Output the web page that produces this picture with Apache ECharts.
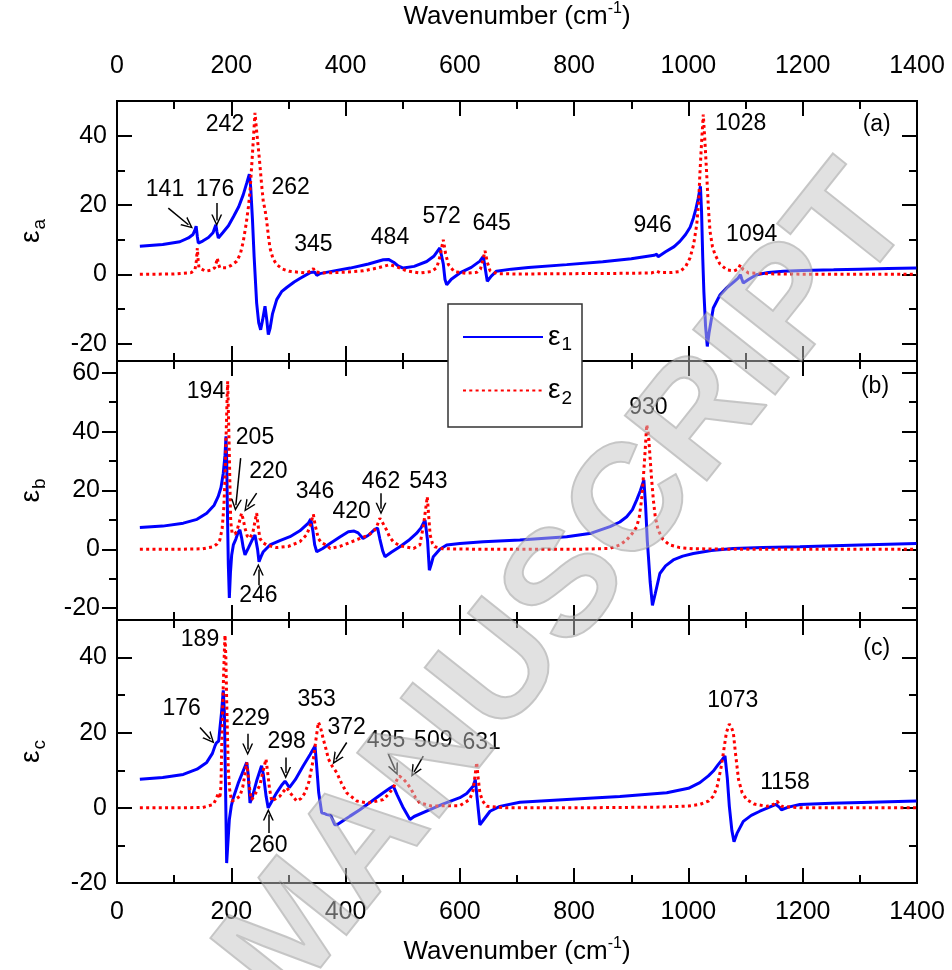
<!DOCTYPE html>
<html>
<head>
<meta charset="utf-8">
<script src="https://cdn.jsdelivr.net/npm/echarts@6/dist/echarts.min.js"></script>
<style>
  html, body { margin: 0; padding: 0; background: #fff; }
  #chart { width: 952px; height: 970px; }
</style>
</head>
<body>
<div id="chart"></div>
<script>
// ---- data: [wavenumber, epsilon] ----
var aE1 = [[40,8.1],[80,8.6],[110,9.4],[125,10.5],[133,11.5],[136,12.6],[138.5,13.9],[140.5,11],[142.3,9],[150,9.6],[160,10.6],[168,12],[173,14.3],[175,12.2],[177.3,10.5],[185,12],[195,14],[204,16.7],[213,19.5],[221,23],[227,26.3],[231.6,28.9],[234,25],[237,16],[240,5],[244.4,-8.3],[248,-14],[251.4,-16],[255,-13],[259,-9.2],[262,-13],[264.8,-17.4],[268,-15.5],[272,-11.5],[279.5,-7.3],[288,-5],[297,-3.8],[310,-2.2],[320,-1.2],[338,0.5],[346,0.7],[349.5,-0.3],[355,0.2],[380,1],[408,1.8],[440,3],[466,4.2],[475,4.3],[484,3.5],[492,2.4],[501,1.8],[520,2.3],[542,3.7],[555,5.3],[565,7.6],[568,7.9],[571,3],[574,-1.5],[577,-3],[585,-1.4],[600,0.4],[620,2],[635,3.8],[641,5.2],[644,5.6],[646,0],[648,-2],[655,-0.5],[664,0.9],[690,1.5],[720,2],[787,2.8],[850,3.6],[900,4.5],[940,5.5],[944.5,5.8],[947,5.1],[960,6.5],[975,8],[985,9.5],[995,11.5],[1003,13.6],[1008.6,16.2],[1013,18.8],[1017,21.8],[1021,25.4],[1023,18],[1025,5],[1027,-4.9],[1030,-15],[1033,-20.8],[1036,-17],[1043.5,-9.7],[1055,-6],[1067,-3.9],[1080,-2.1],[1087,-1.1],[1091,-0.1],[1093,-1.2],[1096,-2.5],[1105,-1.5],[1119,-0.1],[1140,0.5],[1166,0.9],[1200,1.1],[1254,1.3],[1300,1.5],[1350,1.7],[1399,1.8]];
var aE2 = [[40,0],[100,0.1],[130,0.5],[136.5,1.4],[139,4],[140.6,7.6],[142,4],[143.5,1.9],[155,0.9],[165,1.2],[171,1.9],[174,3.5],[175.6,4.7],[177.5,3],[180,1.9],[191.6,1.9],[200,2.6],[209.5,3.75],[216,6],[221,9.5],[226,14.5],[230,19.5],[232.8,24],[236,32],[239,40],[241.5,46.6],[244,42],[249,33.6],[253,26],[256,21],[259,18.7],[262,15.3],[265,11],[267.7,7.6],[273,4.5],[279.5,2.8],[290,1.5],[301,0.9],[330,0.4],[340,1],[343.6,1.7],[347,0.7],[360,0.4],[400,0.6],[431,1],[455,1.8],[477.8,2.8],[492,2],[507,1],[530,0.4],[550,0.8],[559.5,1.9],[565,5],[571,10],[575,6],[580,2.8],[590,0.8],[610,0.3],[630,0.6],[636,1.5],[641,4.5],[644,6.8],[648,3.5],[653,1],[665,0.2],[700,0.1],[800,0.2],[900,0.3],[935,0.4],[945,0.9],[950,0.5],[970,0.5],[985,0.8],[995,2.2],[1002.7,4.7],[1009,8.5],[1014.5,14.3],[1018,21],[1020,28.8],[1023,38],[1026,46.1],[1029,38],[1032,28.8],[1035,19],[1037.8,12.4],[1042,8],[1046.5,5.7],[1055,3],[1067,1.3],[1080,1],[1087,1.5],[1091,2.8],[1095,1.5],[1105,0.4],[1150,0.1],[1250,0],[1399,0]];

var bE1 = [[40,7.4],[80,7.9],[116,8.9],[140,10.2],[157,12.3],[170,15],[177,17.9],[182,21],[186,25.9],[189,32],[190.75,38.4],[192,30],[193.5,10],[194.8,-5],[196.6,-16.5],[198.5,-8],[200.7,-1.9],[203.6,1.5],[208,3.5],[212,5.8],[215,6.6],[218,4],[221,0.5],[224,-1.9],[230,0.5],[236,3],[241.5,4.9],[244,5.2],[246,0],[248.5,-4.2],[252,-2.5],[256,-0.8],[267.7,1.5],[285,3],[302.7,4.3],[320,6.3],[334.8,8.9],[339,10.3],[343,6],[346,1.5],[349.5,-0.8],[352,-1.4],[360,0.3],[372.75,2],[390,4.2],[404.8,6],[415,6.2],[422,5.6],[430.5,3.7],[440,4.8],[451,6.8],[456,7.2],[460,3.5],[465,-0.5],[469,-2.5],[480,-1],[495,0.9],[510,3],[524,5.4],[532,7.3],[539,10],[541,10.3],[543.5,3],[546.6,-7.1],[550,-5],[553.5,-2.5],[565,0],[577,1.5],[600,2],[641,2.6],[705,3.2],[787,4.3],[830,5.5],[862.75,7.7],[880,9.3],[892,11.1],[902,13.5],[909.5,16.8],[916,20],[922,23.6],[925,15],[928,3],[930,-2.5],[933,-11],[937,-19],[942,-15],[950,-8.2],[960,-5.6],[973.5,-3.6],[990,-2.3],[1008.6,-1.4],[1040,-0.4],[1078.5,0.3],[1130,0.6],[1195,0.9],[1300,1.5],[1399,2]];
var bE2 = [[40,0],[100,0],[150,0.2],[168.5,0.9],[175,1.8],[180,3.2],[184,7],[187,14.5],[189,24],[190.75,37.3],[192.5,50],[193.7,57.1],[195,46],[196.6,32.1],[198,18],[199,9.4],[201.5,5.5],[203.6,4.9],[206,5.2],[209.5,6],[213,8.5],[218,12.3],[221,10],[224,7.2],[228,4.5],[232.75,3.75],[238,6],[241,9],[244.4,12.3],[247,8],[250,3.75],[255,2.3],[262,1.5],[279,0.6],[300,1],[320,2.6],[332,5],[338,8],[343.6,11.9],[347,8],[352.3,3.75],[358,2.2],[366,1.5],[373,0.3],[390,1],[410,2.5],[425,3.7],[440,4.8],[450,6.3],[454.5,7.7],[460,10.6],[465,9],[471.7,6.6],[477,4.2],[483.5,2.6],[495,1.2],[519,0.3],[530,1.5],[536,7.7],[539,12],[543,17.9],[546,10],[548,4.9],[552,2],[556,0.9],[570,0.2],[650,0],[800,0],[862,0.3],[880,1.5],[892,3.2],[902,5.5],[909.5,7.7],[914,11],[918,16.8],[921,24],[924,32.7],[927,42.4],[930,39],[932.75,31.6],[935.5,24],[938.6,16.8],[942,11],[947,6.6],[955,3.5],[967,1.5],[985,0.6],[1010,0.2],[1100,0],[1399,0]];

var cE1 = [[40,7.6],[80,8.1],[116,8.9],[140,10.3],[157,12.1],[167,14.5],[171.5,16.5],[174,17.3],[176.5,16.8],[178,17.8],[180,21],[183,25.5],[186,31.3],[188,25],[190,5],[190.75,-3.1],[191.9,-14.7],[193,-12],[196.6,-3.1],[200,0.5],[203.6,2.7],[212,6.5],[220,9.5],[227,12.1],[229.5,9],[232.75,1.3],[237,3],[245,7.5],[253,11.2],[256,9],[261,3],[264.6,0],[270,1.5],[279.3,4],[288,6],[294,7.1],[297,6.5],[301.6,5.4],[312,7.5],[326,11.2],[338,14.2],[346.5,16.5],[349,12],[353,4],[358.2,-1.3],[363,-1.5],[367,-1.8],[370,-1.4],[374,-2],[381,-4.5],[385,-4.5],[395,-3.5],[407.75,-2.2],[425,-0.5],[445,1.7],[466,4],[478,5.3],[483.6,5.8],[490,3.5],[500,0.3],[512.75,-3.1],[520,-2.3],[547.75,-0.5],[570,1],[600,2.7],[612,3.8],[623.5,5.8],[627,7.6],[630,3],[633,-1.5],[635,-4.5],[640,-3.5],[652.75,-0.9],[670,0.4],[705,1.5],[787,2.2],[880,3],[962,4],[1000,5.2],[1020,6.7],[1035,8.5],[1043.6,9.8],[1052,11.5],[1059,12.8],[1064,13.8],[1068,8],[1071.6,0.4],[1076,-6],[1079.75,-9],[1085,-6.8],[1096,-3.6],[1110,-2],[1125,-0.9],[1145,0.4],[1153,0.9],[1156,1.2],[1159,0.2],[1162.75,-0.5],[1175,0.2],[1195,0.9],[1250,1.2],[1320,1.5],[1399,1.8]];
var cE2 = [[40,0],[100,0],[150,0.1],[168.5,0.9],[174,2.5],[177.3,4],[180,2.5],[182,6],[183,14.7],[184.5,24],[186,32.6],[188,42],[189,46],[190.5,40],[192,28],[193.5,18],[194.75,10.3],[197,5],[200.6,1.8],[207,2.2],[215,3.1],[220,5.5],[224,9],[227,12.1],[230,8],[233,4],[235.7,2.2],[241.5,3.6],[250,6],[256,10],[260.75,13],[264,9],[267,5],[270.7,1.8],[285,3.1],[292,4.5],[297,5.4],[303,4],[314.5,1.8],[322,2.5],[329,4],[336,7],[343.6,13],[348,18],[352.4,22.8],[356,21.5],[361,18.3],[366,15.5],[370,13],[377,11],[384.5,9.4],[393,6.5],[402,4],[420,1.8],[440,1.3],[466,2.2],[476,3.8],[483.6,5.4],[490,7.5],[494,8.5],[500,7.8],[507,6.7],[515,4.9],[522,2.8],[530,1.3],[550,0.5],[600,0.6],[617,2.2],[623,4.5],[626.5,8.5],[629.5,12.1],[632,8],[635,4],[640,1.8],[647,0.4],[680,0],[800,0],[950,0.2],[1000,0.5],[1020,0.9],[1035,1.8],[1043.6,3.1],[1050,5.5],[1057.75,11.2],[1062,15.5],[1066.5,20.1],[1071.6,22.3],[1075,21.5],[1078.5,20.1],[1082,15],[1087.6,7.6],[1094,4],[1102,2.2],[1115,1],[1137,0.4],[1150,1],[1155,1.8],[1159,1],[1163,0.4],[1200,0],[1399,0]];

// peak labels [text, x, y] and arrows [x1, y1, x2, y2] in data units
var aNotes = [['242',189,43.2],['141',84,24.4],['176',171.5,24.4],['262',304,24.9],['345',343.6,8.6],['484',477.75,10.5],['572',568,16.5],['645',655.7,14.5],['946',937.4,13.9],['1028',1091.4,43.5],['1094',1110.7,11.5],['(a)',1329.5,43.2]];
var aArrows = [[89.8,19.1,125,14.3],[174.5,20.6,174.5,15.5]];
var bNotes = [['194',155.75,53.7],['205',241.5,37.8],['220',264.8,26.5],['246',247.3,-15.6],['346',346.5,19.6],['420',410.7,12.8],['462',462,23],['543',544.8,23],['930',929.8,48.1],['(b)',1326.5,55.4]];
var bArrows = [[216.4,31,208,15],[244.4,19.1,228.5,14.5],[247.3,-12.2,247.3,-6.8],[462,19.1,462,13.8]];
var cNotes = [['189',145.25,44.7],['176',113.2,26.5],['229',234,23.7],['298',297,17.6],['260',264.8,-10.1],['353',349.5,28.8],['372',402,21.4],['495',470.75,17.9],['509',553.5,17.9],['631',638,17.4],['1073',1077.5,28.6],['1158',1169,6.7],['(c)',1329.5,42.3]];
var cArrows = [[145.25,21.4,163.5,18.3],[228.7,19.7,228.7,15.5],[295.2,13.4,295.2,9.3],[264.8,-6.7,264.8,-1.8],[402,17.4,383,12.9],[474.8,14.3,487,10.1],[536,13.8,520,9.6]];

// axis ticks
var aMajor = [-20, 0, 20, 40], aMinor = [-10, 10, 30];
var bMajor = [-20, 0, 20, 40, 60], bMinor = [-10, 10, 30, 50];
var cMajor = [-20, 0, 20, 40], cMinor = [-10, 10, 30];

var FONT = 'Liberation Sans, Arial, sans-serif';
var chart = echarts.init(document.getElementById('chart'));

var tickLine = { color: '#000', width: 2 };
var epsRich = {
  e: { fontSize: 28, fontFamily: FONT, color: '#000', lineHeight: 30 },
  s: { fontSize: 19, fontFamily: FONT, color: '#000', padding: [16, 0, 0, 1] }
};
var titleRich = {
  t: { fontSize: 26, fontFamily: FONT, color: '#000' },
  sup: { fontSize: 16, fontFamily: FONT, color: '#000', padding: [0, 0, 16, 0] }
};
var arrowHead = 'path://M5,0 L10,10 L8.6,10 L5,2.8 L1.4,10 L0,10 Z';
var plain = function (v) { return String(v); };

function xAxisFor(gi, position, showLabel, margin, nameGap) {
  return {
    gridIndex: gi, type: 'value', position: position,
    min: 0, max: 1400, interval: 200,
    axisLine: { show: false, onZero: false },
    splitLine: { show: false },
    axisTick: { inside: true, length: 15, lineStyle: tickLine },
    minorTick: { show: true, splitNumber: 2, length: 8, lineStyle: tickLine },
    axisLabel: { show: showLabel, fontSize: 25, color: '#000', fontFamily: FONT, margin: margin, formatter: plain },
    name: showLabel ? '{t|Wavenumber (cm}{sup|-1}{t|)}' : '',
    nameLocation: 'middle', nameGap: nameGap,
    nameTextStyle: { rich: titleRich }
  };
}

function yAxesFor(gi, min, max, majors, minors, sub, outward, margin) {
  function base(extra) {
    return Object.assign({
      gridIndex: gi, type: 'value', min: min, max: max,
      axisLine: { show: false, onZero: false },
      splitLine: { show: false }
    }, extra);
  }
  return [
    base({
      position: 'left',
      name: '{e|ε}{s|' + sub + '}', nameLocation: 'middle', nameGap: 68, nameRotate: 90,
      nameTextStyle: { rich: epsRich },
      axisTick: { inside: !outward, length: 15, lineStyle: tickLine, customValues: majors },
      axisLabel: { customValues: majors, fontSize: 25, color: '#000', fontFamily: FONT, margin: margin, formatter: plain }
    }),
    base({ position: 'left', axisTick: { inside: !outward, length: 8, lineStyle: tickLine, customValues: minors }, axisLabel: { show: false } }),
    base({ position: 'right', axisTick: { inside: true, length: 15, lineStyle: tickLine, customValues: majors }, axisLabel: { show: false } }),
    base({ position: 'right', axisTick: { inside: true, length: 8, lineStyle: tickLine, customValues: minors }, axisLabel: { show: false } })
  ];
}

function panelSeries(gi, e1, e2, notes, arrows) {
  var xi = gi * 2, yi = gi * 4;
  return [
    {
      name: 'e1', type: 'line', xAxisIndex: xi, yAxisIndex: yi, data: e1,
      symbol: 'none', z: 3,
      lineStyle: { color: '#0000ff', width: 3 }, itemStyle: { color: '#0000ff' }
    },
    {
      name: 'e2', type: 'line', xAxisIndex: xi, yAxisIndex: yi, data: e2,
      symbol: 'none', z: 4,
      lineStyle: { color: '#ff0000', width: 3, type: [3, 3.3] }, itemStyle: { color: '#ff0000' }
    },
    {
      type: 'scatter', xAxisIndex: xi, yAxisIndex: yi, z: 5, silent: true,
      symbolSize: 0, itemStyle: { opacity: 1, color: '#000' },
      data: notes.map(function (n) { return { name: n[0], value: [n[1], n[2]] }; }),
      label: { show: true, position: 'inside', formatter: '{b}', fontSize: 23, color: '#000', opacity: 1, fontFamily: FONT },
      markLine: {
        silent: true, animation: false,
        symbol: ['none', arrowHead], symbolSize: [11, 12],
        label: { show: false },
        lineStyle: { color: '#000', width: 1.5, type: 'solid', opacity: 1 },
        data: arrows.map(function (a) { return [{ coord: [a[0], a[1]] }, { coord: [a[2], a[3]] }]; })
      }
    }
  ];
}

var grids = [
  { left: 117, width: 800, top: 100, height: 261 },
  { left: 117, width: 800, top: 361, height: 259 },
  { left: 117, width: 800, top: 620, height: 263 }
].map(function (g) {
  return Object.assign({ show: true, borderColor: '#000', borderWidth: 2, backgroundColor: 'transparent' }, g);
});

var option = {
  backgroundColor: '#fff',
  animation: false,
  grid: grids,
  xAxis: [
    xAxisFor(0, 'bottom', false, 0, 0),
    xAxisFor(0, 'top', true, 22, 68),
    xAxisFor(1, 'bottom', false, 0, 0),
    xAxisFor(1, 'top', false, 0, 0),
    xAxisFor(2, 'bottom', true, 17, 53),
    xAxisFor(2, 'top', false, 0, 0)
  ],
  yAxis: [].concat(
    yAxesFor(0, -25, 50, aMajor, aMinor, 'a', false, 10),
    yAxesFor(1, -24, 64, bMajor, bMinor, 'b', true, 17),
    yAxesFor(2, -20, 50, cMajor, cMinor, 'c', false, 10)
  ),
  legend: {
    data: ['e1', 'e2'], orient: 'vertical', left: 457, top: 318,
    itemWidth: 80, itemHeight: 14, itemGap: 22, selectedMode: false, z: 12,
    itemStyle: { opacity: 0 },
    formatter: function (n) { return n === 'e1' ? '{e|ε}{s|1}' : '{e|ε}{s|2}'; },
    textStyle: { rich: epsRich }
  },
  graphic: [
    {
      type: 'rect', z: 10, silent: true,
      shape: { x: 448, y: 304, width: 134, height: 123 },
      style: { fill: '#fff', stroke: '#333', lineWidth: 1.5 }
    },
    {
      type: 'text', z: 50, silent: true,
      x: 568, y: 588, rotation: 0.9,
      style: {
        text: 'MANUSCRIPT', font: 'bold 152px Liberation Sans, Arial, sans-serif',
        fill: 'rgba(195,195,195,0.5)', stroke: 'rgba(130,130,130,0.45)', lineWidth: 2,
        align: 'center', verticalAlign: 'middle'
      }
    }
  ],
  series: [].concat(
    panelSeries(0, aE1, aE2, aNotes, aArrows),
    panelSeries(1, bE1, bE2, bNotes, bArrows),
    panelSeries(2, cE1, cE2, cNotes, cArrows)
  )
};

chart.setOption(option);
</script>
</body>
</html>
